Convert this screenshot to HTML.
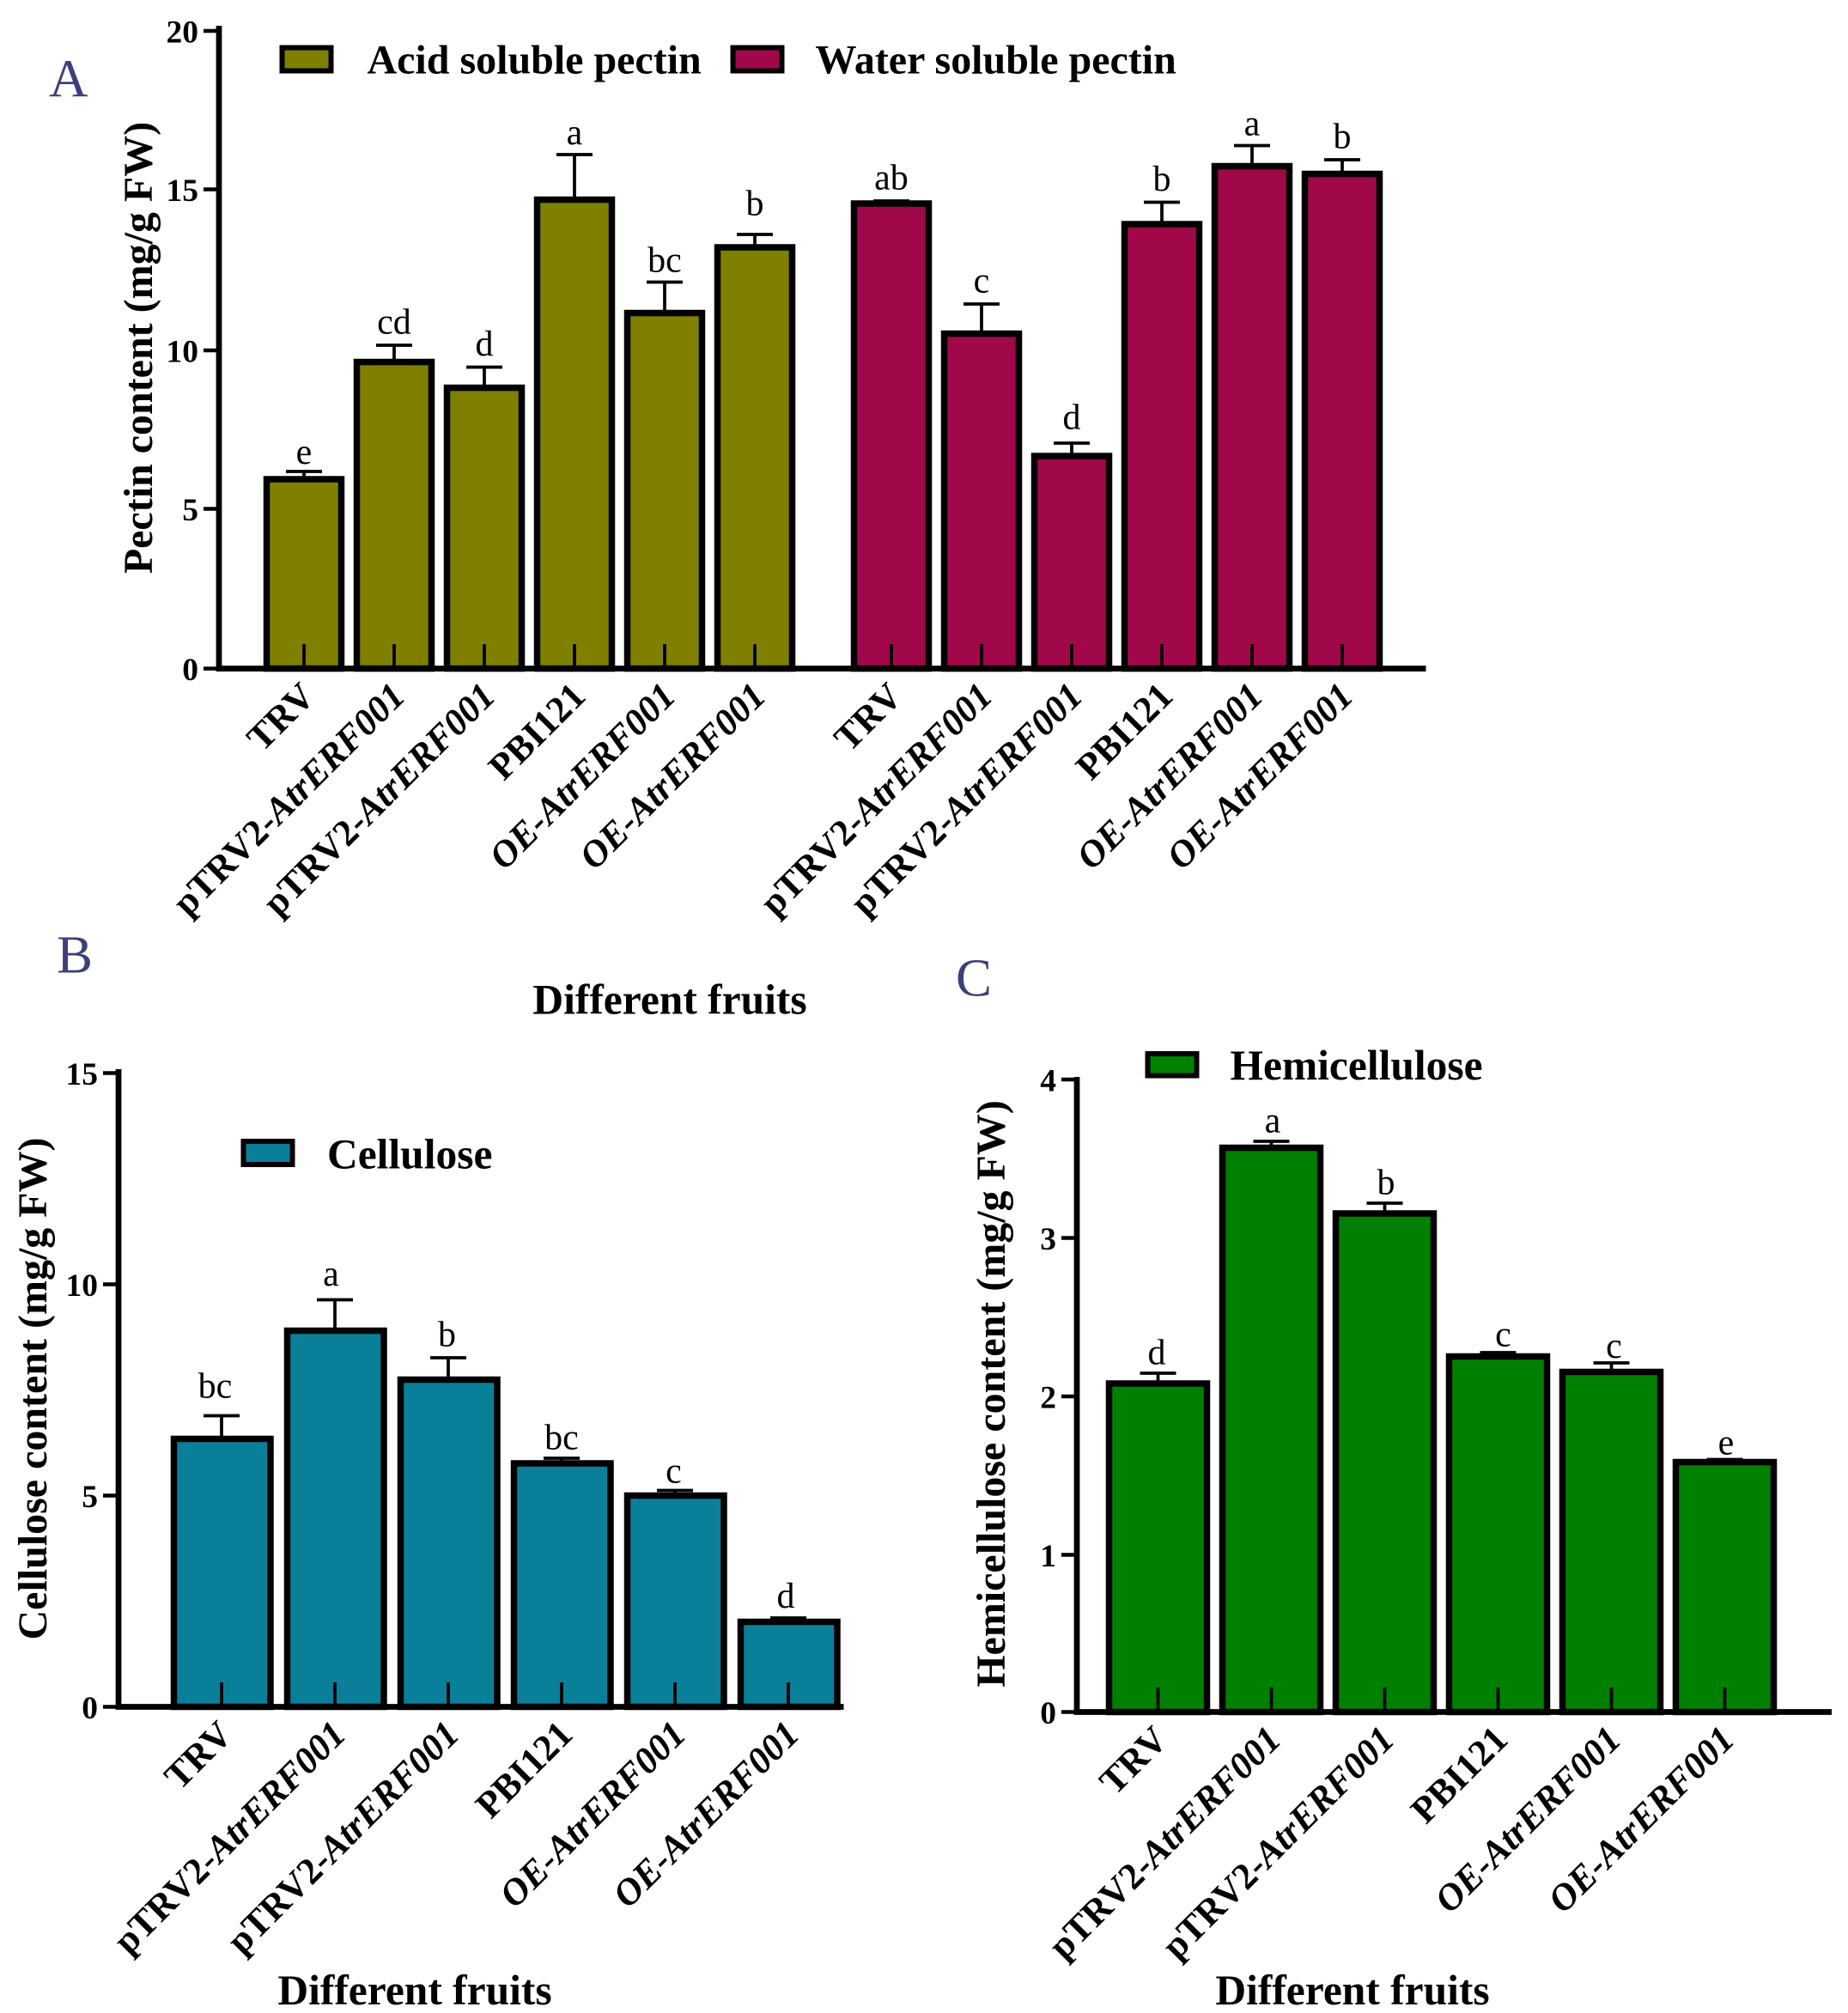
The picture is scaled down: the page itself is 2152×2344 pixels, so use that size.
<!DOCTYPE html>
<html><head><meta charset="utf-8"><style>html,body{margin:0;padding:0;background:#fff}svg{display:block}text{font-family:"Liberation Serif",serif}</style></head><body>
<svg width="2152" height="2344" viewBox="0 0 1434.67 1562.67" xmlns="http://www.w3.org/2000/svg">
<g font-weight="bold" font-size="29">
<!-- ===== Panel A ===== -->
<text x="38" y="75" font-size="42" font-weight="normal" fill="#3d3f7c">A</text>
<g stroke="#000" stroke-width="5">
<rect x="207" y="372" width="58" height="147" fill="#7f7f00"/>
<rect x="277" y="281" width="58" height="238" fill="#7f7f00"/>
<rect x="347" y="301" width="58" height="218" fill="#7f7f00"/>
<rect x="417" y="155" width="58" height="364" fill="#7f7f00"/>
<rect x="487" y="243" width="58" height="276" fill="#7f7f00"/>
<rect x="557" y="192" width="58" height="327" fill="#7f7f00"/>
<rect x="663" y="158" width="58" height="361" fill="#a0084a"/>
<rect x="733" y="259" width="58" height="260" fill="#a0084a"/>
<rect x="803" y="354" width="58" height="165" fill="#a0084a"/>
<rect x="873" y="174" width="58" height="345" fill="#a0084a"/>
<rect x="943" y="129" width="58" height="390" fill="#a0084a"/>
<rect x="1013" y="135" width="58" height="384" fill="#a0084a"/>
</g>
<g stroke="#000" stroke-width="2.5" fill="none">
<path d="M236 372V366M222 366H250M306 281V268M292 268H320M376 301V285M362 285H390M446 155V120M432 120H460M516 243V219M502 219H530M586 192V182M572 182H600M692 158V156M678 156H706M762 259V236M748 236H776M832 354V344M818 344H846M902 174V157M888 157H916M972 129V113M958 113H986M1042 135V124M1028 124H1056"/>
<path d="M236 500V517M306 500V517M376 500V517M446 500V517M516 500V517M586 500V517M692 500V517M762 500V517M832 500V517M902 500V517M972 500V517M1042 500V517"/>
</g>
<path d="M170 20V519H1107" stroke="#000" stroke-width="4.5" fill="none"/>
<path d="M158 24H170M158 147H170M158 272H170M158 395H170M158 519H170" stroke="#000" stroke-width="3"/>
<g text-anchor="end" font-size="25"><text x="154" y="33">20</text><text x="154" y="156">15</text><text x="154" y="281">10</text><text x="154" y="404">5</text><text x="154" y="528">0</text></g>
<g font-weight="normal" font-size="28" text-anchor="middle">
<text x="236" y="360">e</text><text x="306" y="259">cd</text><text x="376" y="276">d</text><text x="446" y="112">a</text><text x="516" y="211">bc</text><text x="586" y="167">b</text>
<text x="692" y="147">ab</text><text x="762" y="227">c</text><text x="832" y="333">d</text><text x="902" y="148">b</text><text x="972" y="105">a</text><text x="1042" y="115">b</text>
</g>
<rect x="219" y="37" width="38" height="18" fill="#7f7f00" stroke="#000" stroke-width="4"/>
<text x="285" y="57" font-size="32">Acid soluble pectin</text>
<rect x="569" y="37" width="38" height="18" fill="#a0084a" stroke="#000" stroke-width="4"/>
<text x="633" y="57" font-size="32">Water soluble pectin</text>
<text transform="translate(118,270) rotate(-90)" text-anchor="middle" font-size="32">Pectin content (mg/g FW)</text>
<text x="520" y="787" text-anchor="middle" font-size="33">Different fruits</text>
<g text-anchor="end">
<text transform="translate(246,542) rotate(-45)">TRV</text>
<text transform="translate(316,542) rotate(-45)">pTRV2-<tspan font-style="italic">AtrERF001</tspan></text>
<text transform="translate(386,542) rotate(-45)">pTRV2-<tspan font-style="italic">AtrERF001</tspan></text>
<text transform="translate(456,542) rotate(-45)">PBI121</text>
<text transform="translate(526,542) rotate(-45)"><tspan font-style="italic">OE-AtrERF001</tspan></text>
<text transform="translate(596,542) rotate(-45)"><tspan font-style="italic">OE-AtrERF001</tspan></text>
<text transform="translate(702,542) rotate(-45)">TRV</text>
<text transform="translate(772,542) rotate(-45)">pTRV2-<tspan font-style="italic">AtrERF001</tspan></text>
<text transform="translate(842,542) rotate(-45)">pTRV2-<tspan font-style="italic">AtrERF001</tspan></text>
<text transform="translate(912,542) rotate(-45)">PBI121</text>
<text transform="translate(982,542) rotate(-45)"><tspan font-style="italic">OE-AtrERF001</tspan></text>
<text transform="translate(1052,542) rotate(-45)"><tspan font-style="italic">OE-AtrERF001</tspan></text>
</g>

<!-- ===== Panel B ===== -->
<text x="44" y="755" font-size="42" font-weight="normal" fill="#3d3f7c">B</text>
<g stroke="#000" stroke-width="5" fill="#0a7f99">
<rect x="135" y="1117" width="75" height="208"/>
<rect x="223" y="1033" width="75" height="292"/>
<rect x="311" y="1071" width="75" height="254"/>
<rect x="399" y="1136" width="75" height="189"/>
<rect x="487" y="1161" width="75" height="164"/>
<rect x="575" y="1259" width="75" height="66"/>
</g>
<g stroke="#000" stroke-width="2.5" fill="none">
<path d="M172 1117V1099M158 1099H186M260 1033V1009M246 1009H274M348 1071V1054M334 1054H362M436 1136V1132M422 1132H450M524 1161V1157M510 1157H538M612 1259V1256M598 1256H626"/>
<path d="M172 1306V1323M260 1306V1323M348 1306V1323M436 1306V1323M524 1306V1323M612 1306V1323"/>
</g>
<path d="M92 830V1325H655" stroke="#000" stroke-width="4.5" fill="none"/>
<path d="M80 833H92M80 997H92M80 1161H92M80 1325H92" stroke="#000" stroke-width="3"/>
<g text-anchor="end" font-size="25"><text x="76" y="842">15</text><text x="76" y="1006">10</text><text x="76" y="1170">5</text><text x="76" y="1334">0</text></g>
<g font-weight="normal" font-size="28" text-anchor="middle">
<text x="167" y="1085">bc</text><text x="257" y="998">a</text><text x="347" y="1045">b</text><text x="436" y="1125">bc</text><text x="523" y="1151">c</text><text x="610" y="1248">d</text>
</g>
<rect x="189" y="886" width="38" height="18" fill="#0a7f99" stroke="#000" stroke-width="4"/>
<text x="254" y="907" font-size="33">Cellulose</text>
<text transform="translate(36,1078) rotate(-90)" text-anchor="middle" font-size="32">Cellulose content (mg/g FW)</text>
<text x="322" y="1556" text-anchor="middle" font-size="33">Different fruits</text>
<g text-anchor="end">
<text transform="translate(182,1348) rotate(-45)">TRV</text>
<text transform="translate(270,1348) rotate(-45)">pTRV2-<tspan font-style="italic">AtrERF001</tspan></text>
<text transform="translate(358,1348) rotate(-45)">pTRV2-<tspan font-style="italic">AtrERF001</tspan></text>
<text transform="translate(446,1348) rotate(-45)">PBI121</text>
<text transform="translate(534,1348) rotate(-45)"><tspan font-style="italic">OE-AtrERF001</tspan></text>
<text transform="translate(622,1348) rotate(-45)"><tspan font-style="italic">OE-AtrERF001</tspan></text>
</g>

<!-- ===== Panel C ===== -->
<text x="742" y="773" font-size="42" font-weight="normal" fill="#3d3f7c">C</text>
<g stroke="#000" stroke-width="5" fill="#008000">
<rect x="861" y="1074" width="76" height="255"/>
<rect x="949" y="891" width="76" height="438"/>
<rect x="1037" y="942" width="76" height="387"/>
<rect x="1125" y="1053" width="76" height="276"/>
<rect x="1213" y="1065" width="76" height="264"/>
<rect x="1301" y="1135" width="76" height="194"/>
</g>
<g stroke="#000" stroke-width="2.5" fill="none">
<path d="M899 1074V1066M885 1066H913M987 891V886M973 886H1001M1075 942V934M1061 934H1089M1163 1053V1050M1149 1050H1177M1251 1065V1058M1237 1058H1265M1339 1135V1133M1325 1133H1353"/>
<path d="M899 1310V1327M987 1310V1327M1075 1310V1327M1163 1310V1327M1251 1310V1327M1339 1310V1327"/>
</g>
<path d="M836 836V1329H1422" stroke="#000" stroke-width="4.5" fill="none"/>
<path d="M824 838H836M824 961H836M824 1084H836M824 1207H836M824 1329H836" stroke="#000" stroke-width="3"/>
<g text-anchor="end" font-size="25"><text x="820" y="847">4</text><text x="820" y="970">3</text><text x="820" y="1093">2</text><text x="820" y="1216">1</text><text x="820" y="1338">0</text></g>
<g font-weight="normal" font-size="28" text-anchor="middle">
<text x="898" y="1059">d</text><text x="988" y="879">a</text><text x="1076" y="927">b</text><text x="1167" y="1045">c</text><text x="1253" y="1054">c</text><text x="1340" y="1129">e</text>
</g>
<rect x="891" y="818" width="38" height="17" fill="#008000" stroke="#000" stroke-width="4"/>
<text x="955" y="838" font-size="33">Hemicellulose</text>
<text transform="translate(780,1082) rotate(-90)" text-anchor="middle" font-size="32">Hemicellulose content (mg/g FW)</text>
<text x="1050" y="1556" text-anchor="middle" font-size="33">Different fruits</text>
<g text-anchor="end">
<text transform="translate(908,1352) rotate(-45)">TRV</text>
<text transform="translate(996,1352) rotate(-45)">pTRV2-<tspan font-style="italic">AtrERF001</tspan></text>
<text transform="translate(1084,1352) rotate(-45)">pTRV2-<tspan font-style="italic">AtrERF001</tspan></text>
<text transform="translate(1172,1352) rotate(-45)">PBI121</text>
<text transform="translate(1260,1352) rotate(-45)"><tspan font-style="italic">OE-AtrERF001</tspan></text>
<text transform="translate(1348,1352) rotate(-45)"><tspan font-style="italic">OE-AtrERF001</tspan></text>
</g>
</g>
</svg>
</body></html>
